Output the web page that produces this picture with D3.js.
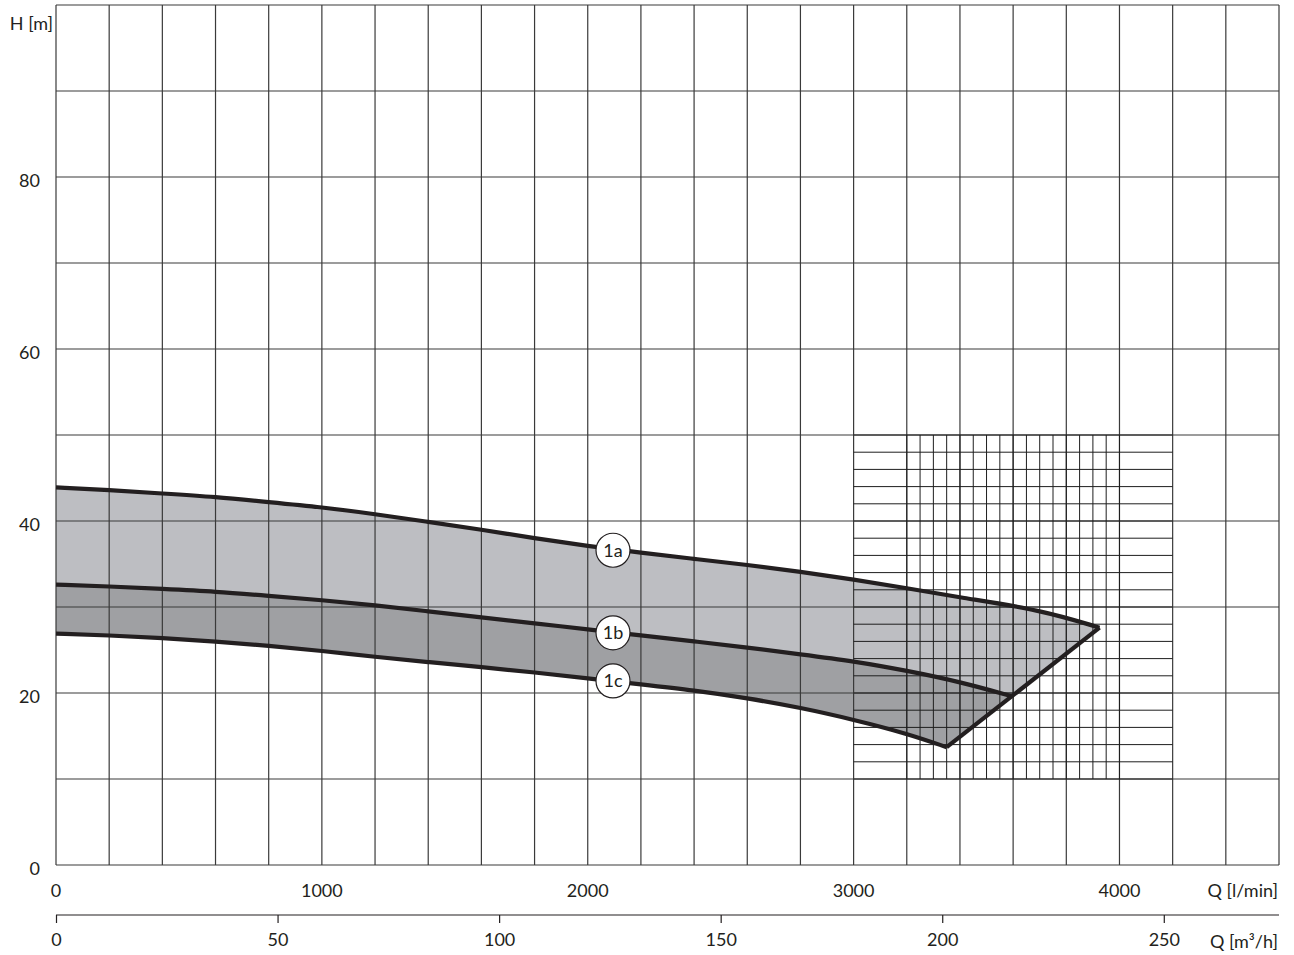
<!DOCTYPE html>
<html>
<head>
<meta charset="utf-8">
<script src="https://cdn.jsdelivr.net/npm/d3@7"></script>
<style>
  html, body { margin: 0; padding: 0; background: #fff; }
  svg { display: block; }
  text { font-family: Lato, "DejaVu Sans", sans-serif; fill: #231f20; }
</style>
</head>
<body>
<svg id="chart" width="1294" height="955"></svg>
<script>
// Flow rate Q in l/min and head H in m for the three pump curves
const q1a = [0, 200, 400, 600, 800, 1000, 1200, 1400, 1600, 1800, 2000, 2200, 2400, 2600, 2800, 3000, 3200, 3400, 3700, 3925];
const h1a = [43.9, 43.6, 43.2, 42.8, 42.2, 41.6, 40.8, 39.9, 39.0, 38.0, 37.1, 36.3, 35.6, 34.9, 34.1, 33.2, 32.2, 31.1, 29.7, 27.6];

const q1b = [0, 200, 400, 600, 800, 1000, 1200, 1400, 1600, 1800, 2000, 2200, 2400, 2600, 2800, 3000, 3200, 3400, 3598];
const h1b = [32.6, 32.4, 32.1, 31.8, 31.3, 30.8, 30.2, 29.5, 28.8, 28.1, 27.4, 26.7, 26.0, 25.3, 24.5, 23.7, 22.6, 21.3, 19.6];

const q1c = [0, 200, 400, 600, 800, 1000, 1200, 1400, 1600, 1800, 2000, 2200, 2400, 2600, 2800, 3000, 3200, 3350];
const h1c = [26.9, 26.7, 26.4, 26.0, 25.5, 24.9, 24.2, 23.6, 23.0, 22.4, 21.7, 21.0, 20.3, 19.4, 18.3, 16.9, 15.3, 13.7];

// Curve labels
const curveNames = ["1a", "1b", "1c"];
const labelQ = [2095, 2095, 2095];
const labelH = [36.6, 27.0, 21.4];

// Axis ticks
const hTicks = [0, 20, 40, 60, 80];
const qTicks = [0, 1000, 2000, 3000, 4000];
const m3Ticks = [0, 50, 100, 150, 200, 250];

const svg = d3.select("#chart");

const x = d3.scaleLinear().domain([0, 4600]).range([56, 1279]);
const y = d3.scaleLinear().domain([0, 100]).range([865, 5]);
// m³/h = l/min * 0.06
const xm3 = d3.scaleLinear().domain([0, 4600 * 0.06]).range([56, 1279]);

const pts = (qs, hs) => qs.map((q, i) => [q, hs[i]]);
const a = pts(q1a, h1a), b = pts(q1b, h1b), c = pts(q1c, h1c);

const line = d3.line().x(d => x(d[0])).y(d => y(d[1])).curve(d3.curveBasis);

// Filled bands: 1a–1b (light), 1b–1c (dark), closed by the straight limit line
function bandPath(upper, lower) {
  const up = line(upper);
  const lowRev = line(lower.slice().reverse());
  return up + "L" + lowRev.slice(1) + "Z";
}
svg.append("path").attr("d", bandPath(a, b)).attr("fill", "#bdbec2");
svg.append("path").attr("d", bandPath(b, c)).attr("fill", "#9fa0a3");

// Main grid
const grid = svg.append("g").attr("stroke", "#3a3a3a").attr("stroke-width", 1.2).attr("fill", "none");
d3.range(0, 4601, 200).forEach(q => {
  grid.append("line").attr("x1", x(q)).attr("x2", x(q)).attr("y1", y(0)).attr("y2", y(100));
});
d3.range(0, 101, 10).forEach(h => {
  grid.append("line").attr("x1", x(0)).attr("x2", x(4600)).attr("y1", y(h)).attr("y2", y(h));
});

// Fine grid in the operating window
const fine = svg.append("g").attr("stroke", "#1e1e1e").attr("stroke-width", 1).attr("fill", "none");
d3.range(10, 51, 2).forEach(h => {
  fine.append("line").attr("x1", x(3000)).attr("x2", x(4200)).attr("y1", y(h)).attr("y2", y(h));
});
d3.range(3200, 4001, 50).forEach(q => {
  fine.append("line").attr("x1", x(q)).attr("x2", x(q)).attr("y1", y(10)).attr("y2", y(50));
});

// Curves
const curves = svg.append("g").attr("stroke", "#231f20").attr("stroke-width", 4.2)
  .attr("fill", "none").attr("stroke-linejoin", "miter").attr("stroke-linecap", "butt");
[a, b, c].forEach(d => curves.append("path").attr("d", line(d)));
curves.append("line")
  .attr("x1", x(c[c.length - 1][0])).attr("y1", y(c[c.length - 1][1]))
  .attr("x2", x(a[a.length - 1][0])).attr("y2", y(a[a.length - 1][1]));

// Curve labels
curveNames.forEach((n, i) => {
  const g = svg.append("g").attr("transform", `translate(${x(labelQ[i])},${y(labelH[i])})`);
  g.append("circle").attr("r", 17).attr("fill", "#fff").attr("stroke", "#231f20").attr("stroke-width", 1.2);
  g.append("text").attr("text-anchor", "middle").attr("dy", "0.36em").attr("font-size", 18).text(n);
});

// H axis labels
svg.append("g").selectAll("text").data(hTicks).join("text")
  .attr("x", 40).attr("y", d => y(d) + 10).attr("text-anchor", "end").attr("font-size", 18)
  .text(d => d);
svg.append("text").attr("x", 53).attr("y", 30).attr("text-anchor", "end").attr("font-size", 18).text("H [m]");

// Q [l/min] labels
svg.append("g").selectAll("text").data(qTicks).join("text")
  .attr("x", d => x(d)).attr("y", 897).attr("text-anchor", "middle").attr("font-size", 18)
  .text(d => d);
svg.append("text").attr("x", 1278).attr("y", 897).attr("text-anchor", "end").attr("font-size", 18).text("Q [l/min]");

// Q [m³/h] axis
const m3Axis = d3.axisBottom(xm3).tickValues(m3Ticks).tickSize(8).tickPadding(14).tickSizeOuter(0);
const gm = svg.append("g").attr("transform", "translate(0,915)").call(m3Axis);
gm.select(".domain").attr("stroke", "#231f20").attr("stroke-width", 1.2).attr("d", `M${xm3.range()[0]},0H${xm3.range()[1]}`);
gm.selectAll(".tick line").attr("stroke", "#231f20").attr("stroke-width", 1.2);
gm.selectAll(".tick text").attr("font-family", "Lato, DejaVu Sans, sans-serif").attr("font-size", 18).attr("fill", "#231f20").attr("dy", "0.5em");
svg.append("text").attr("x", 1278).attr("y", 948).attr("text-anchor", "end").attr("font-size", 18).text("Q [m³/h]");
</script>
</body>
</html>
